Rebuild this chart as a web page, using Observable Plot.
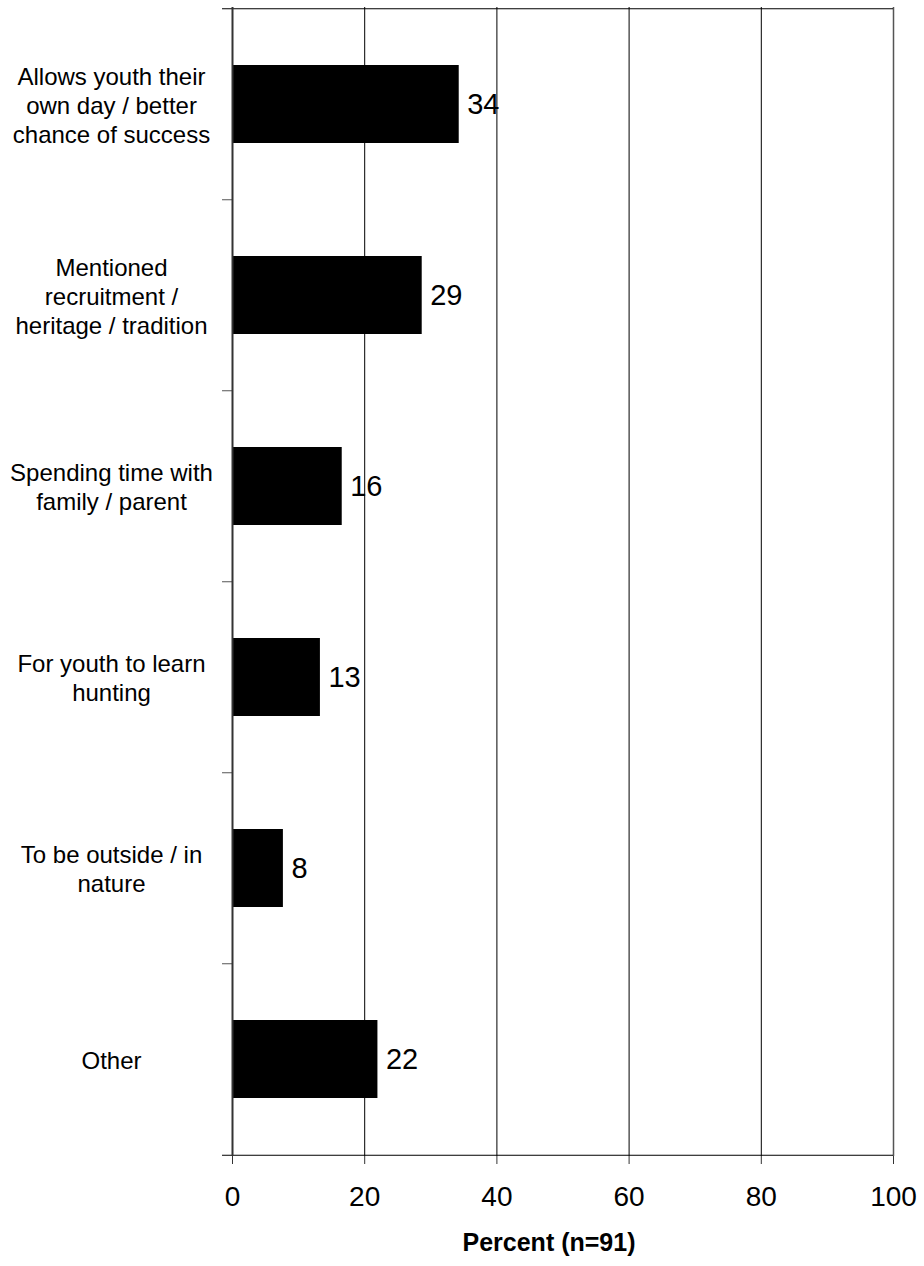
<!DOCTYPE html>
<html><head><meta charset="utf-8">
<script src="https://cdn.jsdelivr.net/npm/d3@7"></script>
<script src="https://cdn.jsdelivr.net/npm/@observablehq/plot@0.6"></script>
<style>
body{margin:0;background:#fff}
svg{font-family: Arial, "Liberation Sans", sans-serif}
</style>
</head><body><div id="chart"></div>
<script>
const categories = [
  "Allows youth their\nown day / better\nchance of success",
  "Mentioned\nrecruitment /\nheritage / tradition",
  "Spending time with\nfamily / parent",
  "For youth to learn\nhunting",
  "To be outside / in\nnature",
  "Other"
];
const values = [34.3, 28.7, 16.6, 13.3, 7.7, 22.0];
const valueLabels = ["34", "29", "16", "13", "8", "22"];
const xTicks = [0, 20, 40, 60, 80, 100];
const gridTicks = [20, 40, 60, 80];
const xTitle = "Percent (n=91)";

const rows = categories.map((c, i) => ({cat: c, value: values[i], label: valueLabels[i]}));
const W = 924, H = 1266, mT = 7, mB = 110, mL = 232, mR = 31;
const step = (H - mT - mB) / categories.length;

const chart = Plot.plot({
  width: W, height: H,
  marginTop: mT, marginBottom: mB, marginLeft: mL, marginRight: mR,
  style: {fontFamily: "Arial, 'Liberation Sans', sans-serif", background: "#fff", color: "black"},
  x: {domain: [0, 100], axis: null},
  y: {domain: categories, type: "band", paddingInner: 0.59, paddingOuter: 0.295, axis: null},
  marks: [
    Plot.ruleX(gridTicks, {stroke: "black", strokeWidth: 1}),
    Plot.barX(rows, {y: "cat", x: "value", fill: "black"}),
    Plot.ruleX([100], {stroke: "#555", strokeWidth: 1.5}),
    Plot.ruleY([categories[0]], {y: d => d, x1: -1.51, x2: 100, dy: -step / 2, stroke: "black", clip: false}),
    Plot.ruleY(categories.slice(1), {y: d => d, x1: -1.51, x2: 0, dy: -step / 2, stroke: "#555", clip: false}),
    Plot.ruleY([categories[categories.length - 1]], {y: d => d, x1: -1.51, x2: 100, dy: step / 2, stroke: "black", clip: false}),
    Plot.ruleX([0], {stroke: "#333", strokeWidth: 2}),
    Plot.axisX(xTicks, {tickSize: 8, tickPadding: 22, fontSize: 28, label: null, stroke: "#333", tickFormat: d => String(d)}),
    Plot.text(rows, {y: "cat", x: "value", text: "label", textAnchor: "start", dx: 8, fontSize: 29, fill: "black"}),
    Plot.text(rows, {y: "cat", text: "cat", frameAnchor: "left", dx: -121, textAnchor: "middle", fontSize: 24, lineHeight: 1.2, fill: "black"}),
    Plot.text([xTitle], {text: d => d, frameAnchor: "bottom", lineAnchor: "middle", dy: 86, dx: -14, fontSize: 25, fontWeight: "bold", fill: "black"})
  ]
});
document.getElementById("chart").appendChild(chart);
</script>
</body></html>
